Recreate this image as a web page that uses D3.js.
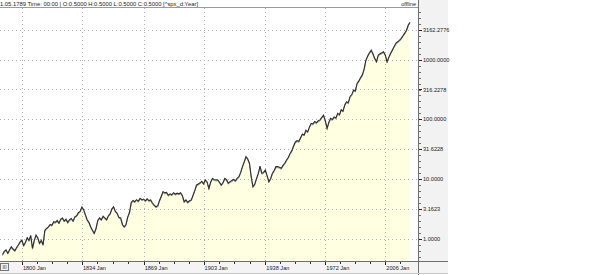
<!DOCTYPE html>
<html lang="en">
<head>
<meta charset="UTF-8" />
<script src="https://d3js.org/d3.v7.min.js"></script>
<style>
  html, body { margin: 0; padding: 0; background: #fff; }
  svg { display: block; font-family: "Liberation Sans", Arial, sans-serif; }
</style>
</head>
<body>
<div id="chart"></div>
<script>
// yearly closes, first year 1789
var firstYear = 1789;
var closes = [
  0.55, 0.62, 0.66, 0.58, 0.66, 0.74, 0.68, 0.64, 0.72, 0.80,   // 1789-1798
  0.90, 0.96, 0.78, 0.88, 1.05, 0.95, 1.15, 0.70, 0.95, 1.17,   // 1799-1808
  1.05, 0.85, 0.95, 0.80, 1.40, 1.50, 1.60, 1.75, 1.70, 1.95,   // 1809-1818
  1.90, 2.05, 1.85, 2.15, 2.25, 2.00, 2.15, 1.90, 2.10, 2.20,   // 1819-1828
  2.00, 2.35, 2.45, 2.75, 2.90, 3.45, 3.10, 2.55, 2.10, 1.90,   // 1829-1838
  1.60, 1.40, 1.25, 1.50, 2.05, 2.25, 2.10, 2.40, 2.25, 2.10,   // 1839-1848
  2.45, 2.65, 3.20, 3.45, 2.90, 2.70, 2.30, 2.25, 1.75, 1.60,   // 1849-1858
  1.75, 2.35, 2.80, 4.10, 4.40, 4.20, 4.55, 4.30, 4.80, 4.55,   // 1859-1868
  4.65, 4.35, 4.70, 4.40, 4.50, 4.00, 3.70, 3.45, 3.60, 4.40,   // 1869-1878
  5.20, 6.20, 5.90, 6.00, 5.40, 5.70, 5.50, 5.95, 5.60, 5.85,   // 1879-1888
  5.70, 5.95, 5.30, 4.20, 4.50, 4.10, 4.35, 4.50, 5.40, 6.50,   // 1889-1898
  8.00, 8.30, 8.70, 9.20, 8.40, 9.70, 9.00, 7.00, 9.00, 10.3,   // 1899-1908
  9.90, 9.70, 9.80, 8.90, 8.00, 8.80, 10.3, 9.80, 8.60, 9.10,   // 1909-1918
  9.50, 9.90, 9.40, 10.3, 11.0, 13.0, 16.2, 19.5, 23.8, 22.0,   // 1919-1928
  18.5, 11.0, 7.50, 8.30, 10.3, 12.5, 16.6, 12.6, 13.0, 14.3,   // 1929-1938
  11.5, 9.10, 10.3, 12.6, 14.0, 16.2, 16.2, 15.8, 15.2, 17.0,   // 1939-1948
  18.5, 20.9, 23.0, 27.0, 30.0, 36.0, 42.0, 44.0, 43.0, 50.0,   // 1949-1958
  57.0, 55.0, 66.0, 62.0, 75.0, 86.0, 84.0, 92.0, 88.0, 95.0,   // 1959-1968
  98.0, 108, 118, 95.0, 71.0, 90.0, 104, 100, 110, 106,         // 1969-1978
  126, 120, 145, 138, 175, 197, 190, 240, 260, 310,             // 1979-1988
  300, 400, 440, 500, 555, 700, 983, 1150, 1300, 1440,          // 1989-1998
  1250, 1050, 925, 1190, 1250, 1300, 1350, 1200, 925, 1100,     // 1999-2008
  1275, 1450, 1650, 1870, 1990, 2100, 2265, 2500, 2770, 3100,   // 2009-2018
  3790, 4220                                                    // 2019-2020
];
var xMajorTicks = [1800, 1834, 1869, 1903, 1938, 1972, 2006];
var xTickLabels = ["1800 Jan", "1834 Jan", "1869 Jan", "1903 Jan", "1938 Jan", "1972 Jan", "2006 Jan"];
var yTicks = [1, 3.1623, 10, 31.6228, 100, 316.2278, 1000, 3162.2776];
var yTickLabels = ["1.0000", "3.1623", "10.0000", "31.6228", "100.0000", "316.2278", "1000.0000", "3162.2776"];
var headerText = "1.05.1789  Time: 00:00  |  O:0.5000  H:0.5000  L:0.5000  C:0.5000   [^spx_d:Year]";

var W = 590, H = 275;
var plotRight = 418, plotTop = 8, plotBottom = 261, axisBottom = 273, panelRight = 448;

var data = closes.map(function(v, i) { return { year: firstYear + i, value: v }; });

var svg = d3.select("#chart").append("svg")
    .attr("width", W).attr("height", H);

// backgrounds
svg.append("rect").attr("x", plotRight).attr("y", 0)
    .attr("width", panelRight - plotRight).attr("height", axisBottom)
    .attr("fill", "#f2f2f2");
svg.append("rect").attr("x", 0).attr("y", plotBottom)
    .attr("width", panelRight).attr("height", axisBottom - plotBottom)
    .attr("fill", "#f4f4f4");

var x = d3.scaleLinear().domain([1789, 2020]).range([2.5, 410]);
var y = d3.scaleLog().domain([1, 1000]).range([239, 59.6]);

svg.append("defs").append("clipPath").attr("id", "clip")
  .append("rect").attr("x", 0).attr("y", plotTop)
    .attr("width", plotRight).attr("height", plotBottom - plotTop);

var plot = svg.append("g").attr("clip-path", "url(#clip)");

// filled area under the series
plot.append("path")
    .datum(data)
    .attr("fill", "#ffffe2")
    .attr("d", d3.area()
      .x(function(d) { return x(d.year); })
      .y0(plotBottom)
      .y1(function(d) { return y(d.value); }));

// dotted grid
plot.selectAll(".vgrid").data(xMajorTicks).enter().append("line")
    .attr("x1", function(d) { return Math.round(x(d)) + 0.5; })
    .attr("x2", function(d) { return Math.round(x(d)) + 0.5; })
    .attr("y1", plotTop).attr("y2", plotBottom)
    .attr("stroke", "#b4b4b4").attr("stroke-dasharray", "1,3");
plot.selectAll(".hgrid").data(yTicks).enter().append("line")
    .attr("x1", 0).attr("x2", plotRight)
    .attr("y1", function(d) { return Math.round(y(d)) + 0.5; })
    .attr("y2", function(d) { return Math.round(y(d)) + 0.5; })
    .attr("stroke", "#b4b4b4").attr("stroke-dasharray", "1,3");

// soft grey shadow under the line, then the line itself
var line = d3.line()
    .x(function(d) { return x(d.year); })
    .y(function(d) { return y(d.value); });
plot.append("path")
    .datum(data)
    .attr("fill", "none")
    .attr("stroke", "#9a9a9a")
    .attr("stroke-width", 1)
    .attr("transform", "translate(0,1)")
    .attr("d", line);
plot.append("path")
    .datum(data)
    .attr("fill", "none")
    .attr("stroke", "#2e2e2e")
    .attr("stroke-width", 1.1)
    .attr("d", line);

// header
svg.append("line").attr("x1", 0).attr("x2", plotRight)
    .attr("y1", 7.5).attr("y2", 7.5).attr("stroke", "#9a9a9a");
svg.append("text").attr("x", 0).attr("y", 5.6)
    .attr("font-size", 5.6).attr("fill", "#222")
    .attr("textLength", 198).attr("lengthAdjust", "spacingAndGlyphs")
    .text(headerText);
svg.append("text").attr("x", 416).attr("y", 5.6)
    .attr("font-size", 5.6).attr("fill", "#222").attr("text-anchor", "end")
    .text("offline");

// right price axis
svg.append("line").attr("x1", plotRight + 0.5).attr("x2", plotRight + 0.5)
    .attr("y1", 0).attr("y2", H).attr("stroke", "#6e6e6e");
var minor = d3.range(-4, 39).map(function(k) { return Math.pow(10, k / 10); });
svg.selectAll(".yminor").data(minor).enter().append("line")
    .attr("x1", plotRight + 1).attr("x2", plotRight + 3)
    .attr("y1", function(d) { return Math.round(y(d)) + 0.5; })
    .attr("y2", function(d) { return Math.round(y(d)) + 0.5; })
    .attr("stroke", "#6e6e6e")
    .style("display", function(d) { var p = y(d); return (p < 9 || p > 260) ? "none" : null; });
svg.selectAll(".ymajor").data(yTicks).enter().append("line")
    .attr("x1", plotRight + 1).attr("x2", plotRight + 4)
    .attr("y1", function(d) { return Math.round(y(d)) + 0.5; })
    .attr("y2", function(d) { return Math.round(y(d)) + 0.5; })
    .attr("stroke", "#222");
svg.selectAll(".ylab").data(yTicks).enter().append("text")
    .attr("x", plotRight + 5)
    .attr("y", function(d) { return y(d) + 2; })
    .attr("font-size", 5.6).attr("fill", "#222")
    .text(function(d, i) { return yTickLabels[i]; });

// bottom time axis
svg.append("line").attr("x1", 0).attr("x2", panelRight)
    .attr("y1", plotBottom + 0.5).attr("y2", plotBottom + 0.5).attr("stroke", "#6e6e6e");
svg.append("line").attr("x1", 0).attr("x2", panelRight)
    .attr("y1", axisBottom + 0.5).attr("y2", axisBottom + 0.5).attr("stroke", "#c8c8c8");
var xMinor = [];
for (var i = 0; i < xMajorTicks.length - 1; i++) {
  var step = (xMajorTicks[i + 1] - xMajorTicks[i]) / 4;
  for (var k = 1; k < 4; k++) xMinor.push(xMajorTicks[i] + k * step);
}
xMinor.push(2006 + 8.5);
svg.selectAll(".xminor").data(xMinor).enter().append("line")
    .attr("x1", function(d) { return Math.round(x(d)) + 0.5; })
    .attr("x2", function(d) { return Math.round(x(d)) + 0.5; })
    .attr("y1", plotBottom + 1).attr("y2", plotBottom + 3)
    .attr("stroke", "#333");
svg.selectAll(".xmajor").data(xMajorTicks).enter().append("line")
    .attr("x1", function(d) { return Math.round(x(d)) + 0.5; })
    .attr("x2", function(d) { return Math.round(x(d)) + 0.5; })
    .attr("y1", plotBottom + 1).attr("y2", plotBottom + 4)
    .attr("stroke", "#222");
svg.selectAll(".xlab").data(xMajorTicks).enter().append("text")
    .attr("x", function(d) { return x(d) + 1; })
    .attr("y", plotBottom + 8.5)
    .attr("font-size", 5.6).attr("fill", "#222")
    .text(function(d, i) { return xTickLabels[i]; });

// little scroll button at bottom left
svg.append("rect").attr("x", 0.5).attr("y", 263.5).attr("width", 8).attr("height", 7)
    .attr("fill", "#f0f0f0").attr("stroke", "#777");
svg.append("text").attr("x", 4.5).attr("y", 269).attr("text-anchor", "middle")
    .attr("font-size", 5).attr("fill", "#333").text("III");
</script>
</body>
</html>
